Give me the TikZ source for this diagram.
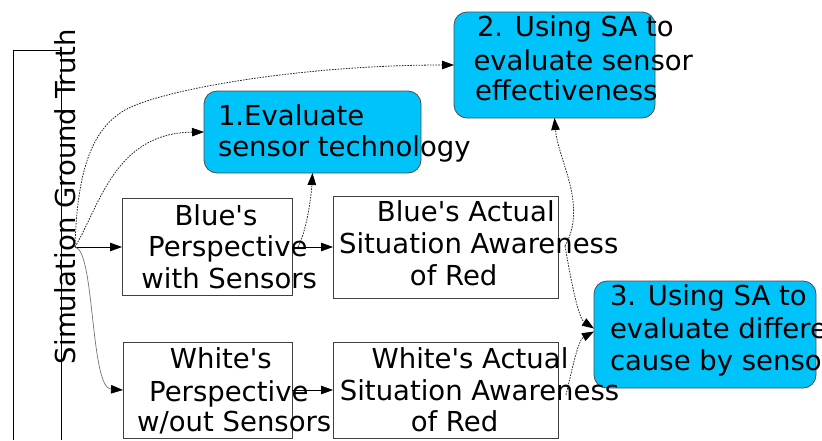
\documentclass[tikz,border=0pt]{standalone}
\usepackage{fontspec}
\setmainfont{DejaVu Sans}
\usetikzlibrary{arrows.meta}
\definecolor{skyfill}{RGB}{0,195,250}
\begin{document}
\begin{tikzpicture}[x=1pt,y=-1pt,
  every node/.style={inner sep=0pt, outer sep=0pt},
  plainbox/.style={draw=black!75, line width=0.9pt, rectangle},
  goalbox/.style={draw=black!70, line width=0.8pt, fill=skyfill, rounded corners=13pt, rectangle},
  txt/.style={font=\fontsize{27.5}{32}\selectfont, anchor=base, text=black},
  tipsty/.style={-{Triangle[length=12pt,width=8.5pt,color=black]}},
  solidline/.style={tipsty, draw=black, line width=0.8pt},
  grayline/.style={tipsty, draw=black!55, line width=0.7pt},
  dotline/.style={tipsty, draw=black!85, line width=0.8pt, dash pattern=on 1.6pt off 1.2pt},
  framesty/.style={draw=black, line width=0.9pt}
]
\useasboundingbox (0,0) rectangle (822,440);
\clip (0,0) rectangle (822,440);

% frame on the left
\draw[framesty] (13,440) -- (13,50) -- (61,50) -- (61,440);

% boxes
\node[plainbox, minimum width=170pt, minimum height=97pt] (bp) at (207,247) {};
\node[plainbox, minimum width=169pt, minimum height=96pt] (wp) at (207.5,390) {};
\node[plainbox, minimum width=225pt, minimum height=102pt] (ba) at (445.5,247) {};
\node[plainbox, minimum width=225pt, minimum height=96pt] (wa) at (445.5,390) {};
\node[goalbox, minimum width=217pt, minimum height=82pt] (n1) at (312.5,132) {};
\node[goalbox, minimum width=201pt, minimum height=106pt] (n2) at (554.5,65) {};
\node[goalbox, minimum width=222pt, minimum height=107pt] (n3) at (705,334.5) {};

% connector anchors
\coordinate (src) at (75,247);
\coordinate (bpout) at (298,247);
\coordinate (baout) at (565,246);
\coordinate (waout) at (566,395);

% connectors
\draw[solidline] (src) -- (bp.west);
\draw[solidline] (bp.east) -- (ba.west);
\draw[solidline] (wp.east) -- (wa.west);
\draw[grayline] (src) .. controls (95,250) and (90,388) .. (wp.west);
\draw[dotline] (src) .. controls (100,205) and (115,133) .. (n1.west);
\draw[dotline] (src) .. controls (77,175) and (90,130) .. (125,110) .. controls (160,90) and (300,65) .. (n2.west);
\draw[dotline] (bpout) .. controls (306,232) and (311,200) .. (n1.south);
\draw[dotline] (baout) .. controls (588,205) and (558,160) .. (n2.south);
\draw[dotline] (baout) .. controls (570,275) and (578,318) .. ([yshift=6pt]n3.west);
\draw[dotline] (waout) .. controls (572,370) and (578,340) .. ([yshift=3pt]n3.west);

% texts
\node[txt, anchor=base west, rotate=90] (sgt) at (75,364) {Simulation Ground Truth};

\node[txt] (bp1) at (216,225.7) {Blue\textquotesingle s};
\node[txt] (bp2) at (227.8,256.7) {Perspective};
\node[txt] (bp3) at (229.2,288.3) {with Sensors};

\node[txt] (wp1) at (220.8,368.3) {White\textquotesingle s};
\node[txt] (wp2) at (228.8,401.7) {Perspective};
\node[txt] (wp3) at (234.2,431.7) {w/out Sensors};

\node[txt] (ba1) at (465.8,221.7) {Blue\textquotesingle s Actual};
\node[txt] (ba2) at (478.7,253.3) {Situation Awareness};
\node[txt] (ba3) at (453.7,285) {of Red};

\node[txt] (wa1) at (470,368.3) {White\textquotesingle s Actual};
\node[txt] (wa2) at (479.5,400) {Situation Awareness};
\node[txt] (wa3) at (454.5,431.7) {of Red};

\node[txt, anchor=base west] (n1a) at (218,125) {1.Evaluate};
\node[txt, anchor=base west] (n1b) at (218,156.7) {sensor technology};

\node[txt, anchor=base west] (n2a) at (477,36) {2. Using SA to};
\node[txt, anchor=base west] (n2b) at (473.5,70) {evaluate sensor};
\node[txt, anchor=base west] (n2c) at (475,100) {effectiveness};

\node[txt, anchor=base west] (n3a) at (610,305) {3. Using SA to};
\node[txt, anchor=base west] (n3b) at (610,338.3) {evaluate difference};
\node[txt, anchor=base west] (n3c) at (610,370) {cause by sensors};
\end{tikzpicture}
\end{document}
